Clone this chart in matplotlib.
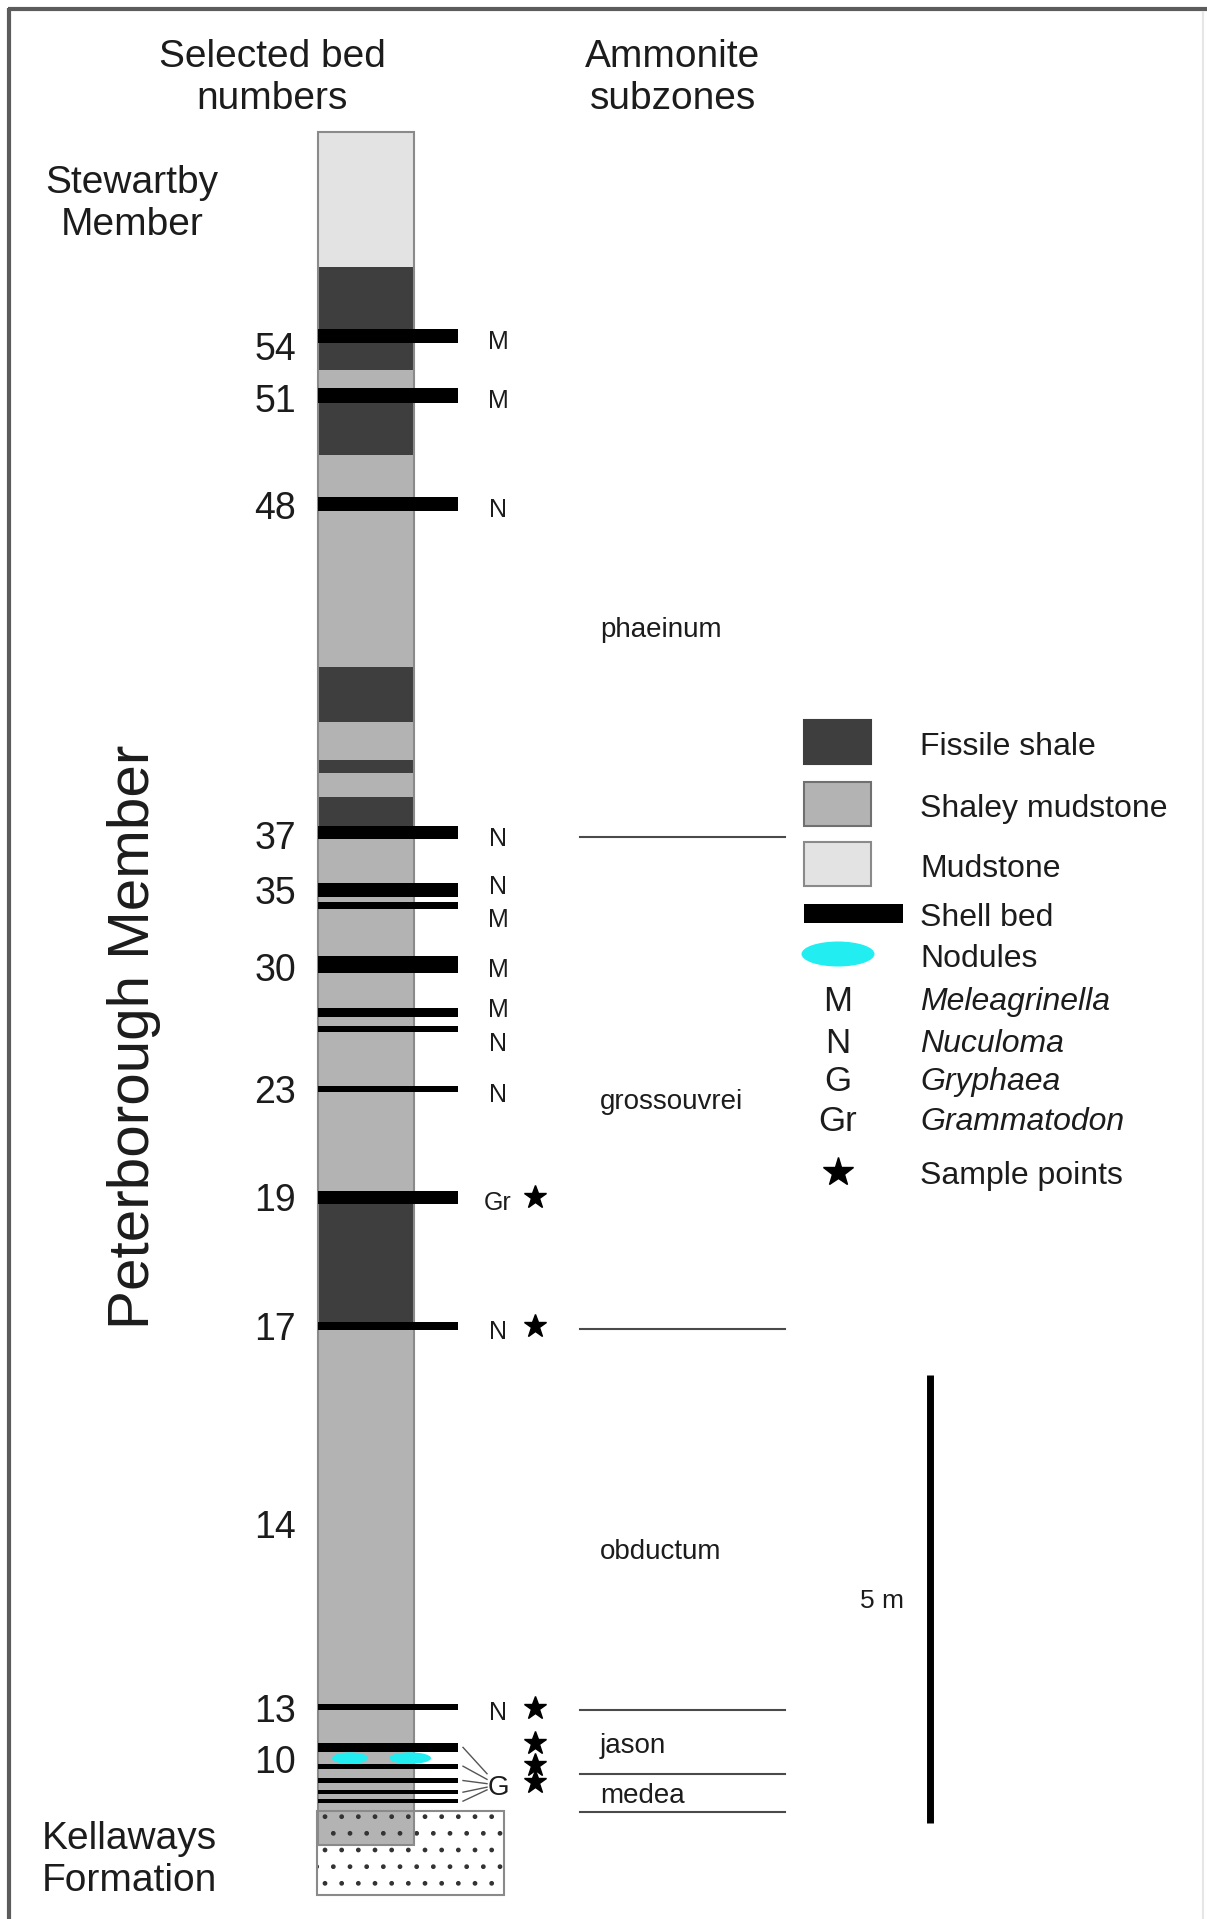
import matplotlib
matplotlib.use('Agg')
import matplotlib.pyplot as plt
from matplotlib.patches import Rectangle, Ellipse

plt.rcParams['font.family'] = ['Liberation Sans', 'DejaVu Sans']

# Lithology of the log, heights in m above the top of the Kellaways Formation
layer_tops = [18.74, 17.23, 16.08, 15.71, 15.13, 12.77, 12.15, 11.73, 11.58, 11.32, 10.95, 6.92, 5.46]
layer_bases = [17.23, 16.08, 15.71, 15.13, 12.77, 12.15, 11.73, 11.58, 11.32, 10.95, 6.92, 5.46, -0.38]
layer_types = ['Mudstone', 'Fissile shale', 'Shaley mudstone', 'Fissile shale', 'Shaley mudstone',
               'Fissile shale', 'Shaley mudstone', 'Fissile shale', 'Shaley mudstone', 'Fissile shale',
               'Shaley mudstone', 'Fissile shale', 'Shaley mudstone']

# Shell beds: mid height, thickness (m) and dominant bivalve
shell_heights = [16.46, 15.80, 14.59, 10.92, 10.28, 10.11, 9.45, 8.91, 8.73, 8.06, 6.85, 5.41,
                 1.16, 0.71, 0.50, 0.34, 0.21, 0.11]
shell_thick = [0.16, 0.17, 0.16, 0.15, 0.15, 0.08, 0.19, 0.10, 0.07, 0.07, 0.15, 0.09,
               0.07, 0.10, 0.06, 0.06, 0.05, 0.05]
shell_fossils = ['M', 'M', 'N', 'N', 'N', 'M', 'M', 'M', 'N', 'N', 'Gr', 'N',
                 'N', 'G', 'G', 'G', 'G', 'G']

# Nodules (height of the nodule horizon)
nodule_height = 0.59

# Sample points
sample_heights = [6.85, 5.41, 1.15, 0.76, 0.51, 0.32]

# Selected bed numbers
bed_numbers = [54, 51, 48, 37, 35, 30, 23, 19, 17, 14, 13, 10]
bed_number_heights = [16.35, 15.77, 14.58, 10.89, 10.28, 9.42, 8.06, 6.85, 5.41, 3.20, 1.15, 0.58]

# Ammonite subzones
subzone_names = ['phaeinum', 'grossouvrei', 'obductum', 'jason', 'medea']
subzone_bases = [10.87, 5.38, 1.13, 0.41, -0.01]
subzone_label_heights = [13.21, 7.95, 2.92, 0.76, 0.20]

# Kellaways Formation at the foot of the log
kellaways_top, kellaways_base = 0.0, -0.94

# Legend entries
legend_rocks = ['Fissile shale', 'Shaley mudstone', 'Mudstone']
fossil_codes = ['M', 'N', 'G', 'Gr']
fossil_names = ['Meleagrinella', 'Nuculoma', 'Gryphaea', 'Grammatodon']

LITH_COLOURS = {'Fissile shale': '#3e3e3e', 'Shaley mudstone': '#b3b3b3', 'Mudstone': '#e3e3e3'}
LITH_EDGES = {'Fissile shale': '#3e3e3e', 'Shaley mudstone': '#707070', 'Mudstone': '#8a8a8a'}
TXT = '#1c1c1c'

COL_L, COL_R, SHELL_R = 318, 414, 458
PX_PER_M = 89.6
BASE_PX = 1811


def main():
    fig = plt.figure(figsize=(12.07, 19.19), dpi=100)

    # log axes: x in layout units, y in metres
    ax = fig.add_axes([0, 0, 1, 1])
    ax.set_xlim(0, 1207)
    ax.set_ylim((BASE_PX - 1919) / PX_PER_M, BASE_PX / PX_PER_M)
    ax.axis('off')

    # overlay axes in figure pixels for headings and legend
    lay = fig.add_axes([0, 0, 1, 1])
    lay.set_xlim(0, 1207)
    lay.set_ylim(1919, 0)
    lay.axis('off')

    # Kellaways Formation box
    kw = kellaways_top - kellaways_base
    ax.add_patch(Rectangle((COL_L - 1, kellaways_base), 505 - COL_L, kw,
                           facecolor='white', edgecolor='none', zorder=1))

    # lithology column
    for top, base, kind in zip(layer_tops, layer_bases, layer_types):
        ax.add_patch(Rectangle((COL_L, base), COL_R - COL_L, top - base,
                               facecolor=LITH_COLOURS[kind], edgecolor='none', zorder=2))

    # stipple over the Kellaways
    ax.add_patch(Rectangle((COL_L - 1, kellaways_base), 505 - COL_L, kw, facecolor='none',
                           edgecolor='#333333', linewidth=0, hatch='.', zorder=3))
    ax.add_patch(Rectangle((COL_L - 1, kellaways_base), 505 - COL_L, kw, facecolor='none',
                           edgecolor='#8a8a8a', linewidth=1.5, zorder=4))
    ax.add_patch(Rectangle((COL_L, layer_bases[-1]), COL_R - COL_L, layer_tops[0] - layer_bases[-1],
                           facecolor='none', edgecolor='#8a8a8a', linewidth=1.5, zorder=4))

    # shell beds
    for h, t in zip(shell_heights, shell_thick):
        ax.add_patch(Rectangle((COL_L, h - t / 2), SHELL_R - COL_L, t,
                               facecolor='black', edgecolor='none', zorder=5))

    # nodules
    for xc, w in [(350, 36), (410, 42)]:
        ax.add_patch(Ellipse((xc, nodule_height), w, 0.13, facecolor='#22eef2',
                             edgecolor='none', zorder=6))

    # fossil letters beside the shell beds (pull apart close pairs)
    label_h = list(shell_heights)
    for i in range(len(label_h) - 1):
        if shell_fossils[i] != 'G' and label_h[i] - label_h[i + 1] < 0.25:
            label_h[i] += 0.1
            label_h[i + 1] -= 0.1
    g_label = 0.29
    for h, h0, f in zip(label_h, shell_heights, shell_fossils):
        if f == 'G':
            ax.plot([463, 487], [h0, g_label + (h0 - g_label) * 0.3],
                    color='#555555', lw=1.0, zorder=5)
        else:
            ax.text(498, h - 0.04, f, fontsize=18, color=TXT, ha='center', va='center_baseline')
    ax.text(498, g_label, 'G', fontsize=20, color=TXT, ha='center', va='center_baseline')

    # sample points
    ax.plot([535] * len(sample_heights), sample_heights, linestyle='none', marker='*',
            markersize=17, color='black', zorder=6)

    # bed numbers
    for n, h in zip(bed_numbers, bed_number_heights):
        ax.text(296, h, str(n), fontsize=27, color=TXT, ha='right', va='center_baseline')

    # ammonite subzones
    for base in subzone_bases:
        ax.plot([580, 785], [base, base], color='#4a4a4a', lw=1.5)
    for name, h in zip(subzone_names, subzone_label_heights):
        ax.text(600, h, name, fontsize=20, color=TXT, ha='left', va='center_baseline')

    # 5 m scale bar
    ax.plot([930, 930], [-0.13, 4.87], color='black', lw=5, solid_capstyle='butt')
    ax.text(882, 2.37, '5 m', fontsize=19, color=TXT, ha='center', va='center_baseline')

    # headings
    for x, y, s in [(272, 78, 'Selected bed\nnumbers'), (673, 78, 'Ammonite\nsubzones'),
                    (132, 204, 'Stewartby\nMember'), (129, 1860, 'Kellaways\nFormation')]:
        lay.text(x, y, s, fontsize=28, color=TXT, ha='center', va='center',
                 multialignment='center', linespacing=1.2)
    lay.text(134, 1037, 'Peterborough Member', fontsize=42, color=TXT, rotation=90,
             ha='center', va='center')

    # legend
    box_y = [720, 782, 842]
    for y, rock in zip(box_y, legend_rocks):
        lay.add_patch(Rectangle((804, y), 67, 44, facecolor=LITH_COLOURS[rock],
                                edgecolor=LITH_EDGES[rock], linewidth=1.5))
        lay.text(920, y + 23, rock, fontsize=23, color=TXT, ha='left', va='center_baseline')
    lay.add_patch(Rectangle((804, 904), 99, 19, facecolor='black', edgecolor='none'))
    lay.text(920, 914, 'Shell bed', fontsize=23, color=TXT, ha='left', va='center_baseline')
    lay.add_patch(Ellipse((838, 954), 73, 25, facecolor='#22eef2', edgecolor='none'))
    lay.text(920, 955, 'Nodules', fontsize=23, color=TXT, ha='left', va='center_baseline')
    for y, code, name in zip([998, 1040, 1078, 1118], fossil_codes, fossil_names):
        lay.text(838, y, code, fontsize=25, color=TXT, ha='center', va='center_baseline')
        lay.text(920, y, name, fontsize=23, color=TXT, ha='left', va='center_baseline',
                 style='italic')
    lay.plot([838], [1172], marker='*', markersize=22, color='black', linestyle='none')
    lay.text(920, 1172, 'Sample points', fontsize=23, color=TXT, ha='left', va='center_baseline')

    # frame
    lay.plot([8, 1207], [9, 9], color='#5c5c5c', lw=3, solid_capstyle='butt')
    lay.plot([9, 9], [8, 1919], color='#5c5c5c', lw=3, solid_capstyle='butt')
    lay.plot([1203, 1203], [12, 1919], color='#e6e6e6', lw=1.5)

    fig.savefig('out.png', dpi=100)


if __name__ == "__main__":
    main()
